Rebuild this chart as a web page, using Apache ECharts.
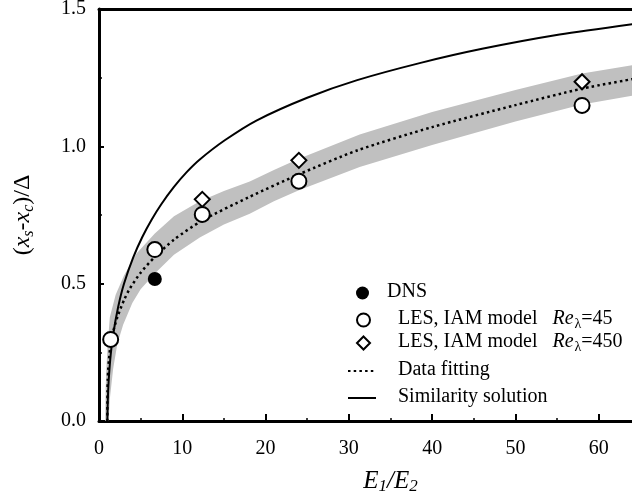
<!DOCTYPE html>
<html>
<head>
<meta charset="utf-8">
<script src="https://cdn.jsdelivr.net/npm/echarts@6/dist/echarts.min.js"></script>
<style>
html,body{margin:0;padding:0;background:#fff;}
#chart{width:632px;height:504px;}
</style>
</head>
<body>
<div id="chart"></div>
<script>
// ---- data ----
const dnsX = [6.7];
const dnsY = [0.517];
const les45X = [1.4, 6.7, 12.4, 24, 58];
const les45Y = [0.297, 0.624, 0.752, 0.873, 1.149];
const les450X = [12.4, 24, 58];
const les450Y = [0.807, 0.949, 1.235];

const fitX = [1.0, 1.02, 1.05, 1.1, 1.2, 1.4, 1.7, 2.2, 3, 3.7, 5, 6.7, 9, 12.4, 18, 24, 31, 40, 50, 58, 65];
const fitY = [0, 0.11, 0.15, 0.185, 0.225, 0.28, 0.325, 0.378, 0.44, 0.482, 0.54, 0.597, 0.66, 0.73, 0.815, 0.898, 0.985, 1.07, 1.15, 1.21, 1.25];

const simX = [1.0, 1.05, 1.1, 1.2, 1.4, 1.7, 2.3, 3, 4.1, 5.2, 6.3, 7.5, 9, 10.5, 12.1, 15.1, 18.9, 25, 31, 38.5, 46, 55.3, 65];
const simY = [0, 0.07, 0.11, 0.165, 0.24, 0.315, 0.415, 0.5, 0.595, 0.67, 0.732, 0.79, 0.852, 0.905, 0.952, 1.022, 1.094, 1.177, 1.241, 1.303, 1.355, 1.407, 1.449];

const bandUpperX = [0.75, 0.8, 0.9, 1.05, 1.3, 2, 3, 4.5, 6.7, 9, 12.1, 15, 18.1, 21, 24, 31.3, 40, 50, 58, 66];
const bandUpperY = [0, 0.12, 0.2, 0.28, 0.378, 0.46, 0.53, 0.61, 0.683, 0.745, 0.80, 0.837, 0.872, 0.914, 0.955, 1.043, 1.125, 1.205, 1.265, 1.305];
const bandLowerX = [1.15, 1.3, 1.7, 2.2, 2.9, 4, 5, 6.7, 9, 12.1, 15, 18.1, 21, 24, 31.3, 40, 50, 58, 66];
const bandLowerY = [0, 0.08, 0.19, 0.28, 0.35, 0.43, 0.48, 0.537, 0.605, 0.668, 0.715, 0.755, 0.80, 0.84, 0.925, 1.005, 1.09, 1.152, 1.195];

const xTicks = [0, 10, 20, 30, 40, 50, 60];
const yTicks = [0.0, 0.5, 1.0, 1.5];

// ---- build ----
const zip = (a, b) => a.map((v, i) => [v, b[i]]);
const bandPoly = zip(bandUpperX, bandUpperY).concat(zip(bandLowerX, bandLowerY).reverse());

const FONT = 'Liberation Serif';
const chart = echarts.init(document.getElementById('chart'), null, {renderer: 'canvas'});

const legendRich = {
  n: {fontFamily: FONT, fontSize: 20, color: '#000', lineHeight: 22, verticalAlign: 'top'},
  it: {fontFamily: FONT, fontSize: 20, fontStyle: 'italic', color: '#000', lineHeight: 22, verticalAlign: 'top'},
  sub: {fontFamily: FONT, fontSize: 14, color: '#000', lineHeight: 14, padding: [11, 0, 0, 1], verticalAlign: 'bottom'}
};
const legendText = {
  'DNS': '{n|DNS}',
  'LES45': '{n|LES, IAM model   }{it|Re}{sub|λ}{n|=45}',
  'LES450': '{n|LES, IAM model   }{it|Re}{sub|λ}{n|=450}',
  'Data fitting': '{n|Data fitting}',
  'Similarity solution': '{n|Similarity solution}'
};

function oneLegend(item, left, top, w, pad) {
  return {
    orient: 'vertical', left: left, top: top, padding: 0,
    itemWidth: w, itemHeight: 13, itemGap: 0,
    selectedMode: false,
    data: [item],
    formatter: name => legendText[name],
    textStyle: {fontFamily: FONT, fontSize: 20, color: '#000', rich: legendRich, padding: [0, 0, 0, pad]}
  };
}

const axisLineStyle = {color: '#000', width: 3};

chart.setOption({
  animation: false,
  backgroundColor: '#fff',
  grid: {left: 99, top: 9, width: 583, height: 412, containLabel: false, outerBoundsMode: 'none'},
  legend: [
    oneLegend('DNS', 356, 282, 13, 13),
    oneLegend('LES45', 356, 306, 13, 23),
    oneLegend('LES450', 356, 329, 13, 23),
    oneLegend({name: 'Data fitting', itemStyle: {opacity: 0}}, 347, 360, 28, 17),
    oneLegend({name: 'Similarity solution', itemStyle: {opacity: 0}}, 347, 387, 28, 17)
  ],
  xAxis: [{
    type: 'value', min: 0, max: 70, interval: 10, position: 'bottom',
    axisLine: {show: true, lineStyle: axisLineStyle},
    axisTick: {show: true, inside: true, length: 7, lineStyle: {color: '#000', width: 2}},
    minorTick: {show: true, splitNumber: 2, length: 3, lineStyle: {color: '#000', width: 1.5}},
    splitLine: {show: false},
    axisLabel: {
      margin: 18, fontFamily: FONT, fontSize: 20, color: '#000',
      formatter: v => (xTicks.indexOf(v) >= 0 ? String(v) : '')
    },
    name: '{i|E}{s|1}{i|/E}{s|2}',
    nameLocation: 'middle',
    nameGap: 38,
    nameTextStyle: {
      rich: {
        i: {fontFamily: FONT, fontSize: 25, fontStyle: 'italic', color: '#000', lineHeight: 26, verticalAlign: 'top'},
        s: {fontFamily: FONT, fontSize: 17, fontStyle: 'italic', color: '#000', lineHeight: 17, padding: [14, 0, 0, 0], verticalAlign: 'bottom'}
      }
    }
  }, {
    type: 'value', min: 0, max: 70, position: 'top',
    axisLine: {show: true, lineStyle: axisLineStyle},
    axisTick: {show: false}, axisLabel: {show: false}, splitLine: {show: false}
  }],
  yAxis: [{
    type: 'value', min: 0, max: 1.5, interval: 0.5,
    axisLine: {show: true, lineStyle: axisLineStyle},
    axisTick: {show: true, inside: true, length: 5, lineStyle: {color: '#000', width: 2}},
    minorTick: {show: true, splitNumber: 2, length: 3, lineStyle: {color: '#000', width: 1.5}},
    splitLine: {show: false},
    axisLabel: {
      margin: 13, fontFamily: FONT, fontSize: 20, color: '#000',
      formatter: v => (yTicks.some(t => Math.abs(t - v) < 1e-9) ? v.toFixed(1) : '')
    },
    name: '{p|(}{i|x}{s|s}{p|-}{i|x}{s|c}{p|)/Δ}',
    nameLocation: 'middle',
    nameGap: 62,
    nameTextStyle: {
      rich: {
        p: {fontFamily: FONT, fontSize: 24, color: '#000', lineHeight: 26, verticalAlign: 'top'},
        i: {fontFamily: FONT, fontSize: 24, fontStyle: 'italic', color: '#000', lineHeight: 26, verticalAlign: 'top'},
        s: {fontFamily: FONT, fontSize: 16, fontStyle: 'italic', color: '#000', lineHeight: 16, padding: [14, 0, 0, 0], verticalAlign: 'bottom'}
      }
    }
  }],
  series: [
    {
      name: 'band', type: 'custom', z: 1, silent: true, clip: true,
      data: bandPoly,
      encode: {x: 0, y: 1},
      renderItem: function (params, api) {
        if (params.dataIndex !== 0) return null;
        const pts = bandPoly.map(p => api.coord(p));
        return {type: 'polygon', shape: {points: pts}, style: {fill: '#c0c0c0', stroke: null}};
      }
    },
    {
      name: 'Data fitting', type: 'line', z: 3, symbol: 'none', smooth: 0.25,
      data: zip(fitX, fitY),
      lineStyle: {color: '#000', width: 2.5, type: [2.5, 3.2]},
      itemStyle: {color: '#000'}
    },
    {
      name: 'Similarity solution', type: 'line', z: 3, symbol: 'none', smooth: 0.25,
      data: zip(simX, simY),
      lineStyle: {color: '#000', width: 2},
      itemStyle: {color: '#000'}
    },
    {
      name: 'DNS', type: 'scatter', z: 5, symbol: 'circle', symbolSize: 14,
      data: zip(dnsX, dnsY),
      itemStyle: {color: '#000', opacity: 1}
    },
    {
      name: 'LES45', type: 'scatter', z: 5, symbol: 'circle', symbolSize: 15,
      data: zip(les45X, les45Y),
      itemStyle: {color: '#fff', borderColor: '#000', borderWidth: 2, opacity: 1}
    },
    {
      name: 'LES450', type: 'scatter', z: 5, symbol: 'diamond', symbolSize: 15,
      data: zip(les450X, les450Y),
      itemStyle: {color: '#fff', borderColor: '#000', borderWidth: 2, opacity: 1}
    }
  ]
});
</script>
</body>
</html>
